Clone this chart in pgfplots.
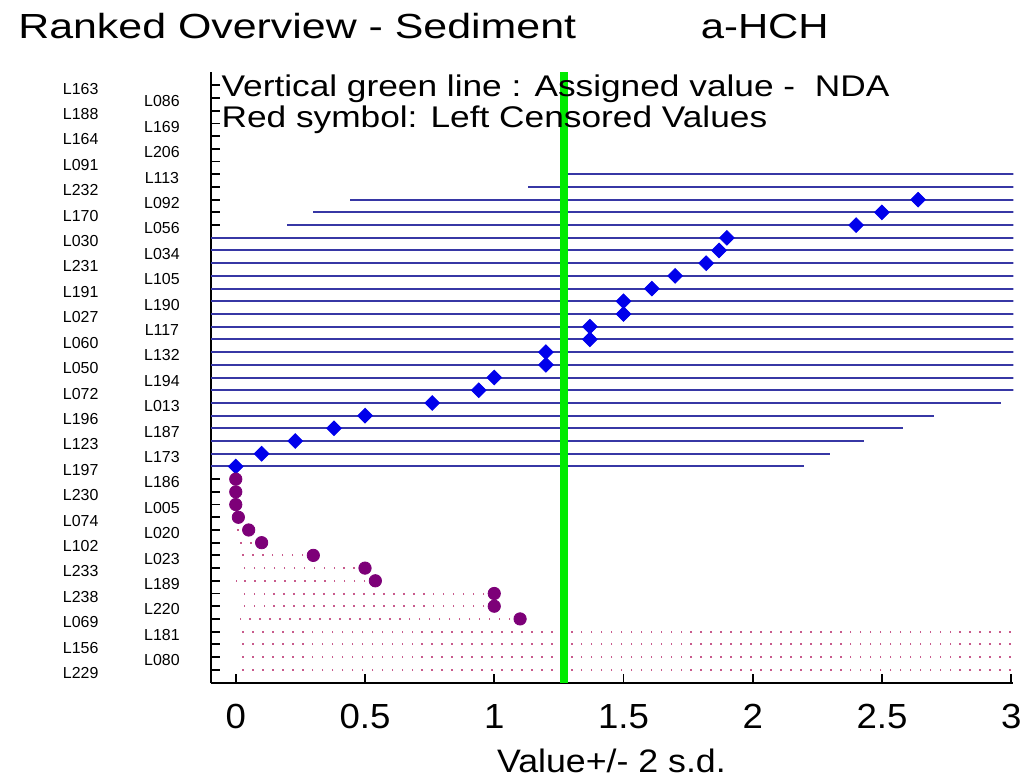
\documentclass[border=0pt]{standalone}
\usepackage{pgfplots}
\pgfplotsset{compat=1.18}
\usepackage{pgfplotstable}
\usepackage{graphicx}
\usepackage{fontspec}
\setmainfont{Liberation Sans}

\definecolor{barblue}{RGB}{55,55,165}
\definecolor{ptblue}{RGB}{0,0,235}
\definecolor{censor}{RGB}{125,0,120}
\definecolor{censordot}{RGB}{200,90,140}
\definecolor{avgreen}{RGB}{0,235,0}

% stretched text, the original renders its fonts a bit wide
\newcommand{\wide}[2][1.2]{\scalebox{#1}[1]{#2}}

% pos = row from the bottom (0 = L229)
\pgfplotstableread{
pos val
39 3.48
38 3.33
37 2.64
36 2.50
35 2.40
34 1.90
33 1.87
32 1.82
31 1.70
30 1.61
29 1.50
28 1.50
27 1.37
26 1.37
25 1.20
24 1.20
23 1.00
22 0.94
21 0.76
20 0.50
19 0.38
18 0.23
17 0.10
16 0.00
}\blueddata

% left censored values
\pgfplotstableread{
pos val
15 0.00
14 0.00
13 0.00
12 0.01
11 0.05
10 0.10
9 0.30
8 0.50
7 0.54
6 1.00
5 1.00
4 1.10
3 3.50
2 3.50
1 3.50
0 3.50
}\censdata

\begin{document}
\begin{tikzpicture}
\path (-106pt,-49.5pt) rectangle (408pt,343pt);
\begin{axis}[
  at={(0,0)}, anchor=south west,
  scale only axis, width=402.5pt, height=307pt,
  xmin=-0.095, xmax=3.008,
  ymin=-1.08, ymax=47.07,
  axis x line*=bottom, axis y line*=left,
  axis line style={line width=1pt, -},
  tick align=inside,
  major tick length=4.5pt,
  tick style={line width=0.9pt, black},
  clip marker paths=true,
  xtick={0,0.5,1,1.5,2,2.5,3},
  xticklabels={\wide[1.05]{0},\wide[1.05]{0.5},\wide[1.05]{1},\wide[1.05]{1.5},\wide[1.05]{2},\wide[1.05]{2.5},\wide[1.05]{3}},
  xticklabel style={font=\fontsize{17.5}{20}\selectfont, anchor=base, yshift=-22.85pt},
  xlabel={\wide[1.1]{Value+/- 2 s.d.}},
  xlabel style={at={(rel axis cs:0.499,0)}, anchor=base, yshift=-44.5pt, font=\fontsize{16.3}{18}\selectfont},
  ytick={0,2,...,46},
  yticklabels={L229,L156,L069,L238,L233,L102,L074,L230,L197,L123,L196,L072,L050,L060,L027,L191,L231,L030,L170,L232,L091,L164,L188,L163},
  yticklabel style={font=\fontsize{8}{9}\selectfont, anchor=center, xshift=-65.5pt, yshift=-1.65pt},
  extra y ticks={1,3,...,45},
  extra y tick labels={L080,L181,L220,L189,L023,L020,L005,L186,L173,L187,L013,L194,L132,L117,L190,L105,L034,L056,L092,L113,L206,L169,L086},
  extra y tick style={grid=none, yticklabel style={xshift=40.75pt}},
]
\addplot[only marks, mark=square*, mark size=2.6pt,
  mark options={rotate=45, fill=ptblue, draw=ptblue},
  error bars/.cd, x dir=both, x fixed=2.2, error mark=none,
  error bar style={line width=1pt, barblue}]
  table[x=val, y=pos] {\blueddata};
\addplot[only marks, mark=*, mark size=3.1pt,
  mark options={fill=censor, draw=censor},
  error bars/.cd, x dir=minus, x fixed relative=1, error mark=none,
  error bar style={censordot, line width=1pt, dash pattern=on 0.8pt off 4.2pt}]
  table[x=val, y=pos] {\censdata};
\addplot[avgreen, line width=4pt] coordinates {(1.271,-1.08) (1.271,47.07)};
\node[anchor=base west, inner sep=0, font=\fontsize{15}{18}\selectfont]
  at (axis description cs:0.0124,0.9598) {\wide[1.18]{Vertical green line : Assigned value -~~NDA}};
\node[anchor=base west, inner sep=0, font=\fontsize{15}{18}\selectfont]
  at (axis description cs:0.0124,0.9083) {\wide[1.18]{Red symbol: Left Censored Values}};
\end{axis}
\node[anchor=base west, inner sep=0, font=\fontsize{17.5}{20}\selectfont]
  at (-97pt,323.85pt) {\wide[1.23]{Ranked Overview - Sediment}};
\node[anchor=base west, inner sep=0, font=\fontsize{17.5}{20}\selectfont]
  at (245.5pt,323.85pt) {\wide{a-HCH}};
\end{tikzpicture}
\end{document}
